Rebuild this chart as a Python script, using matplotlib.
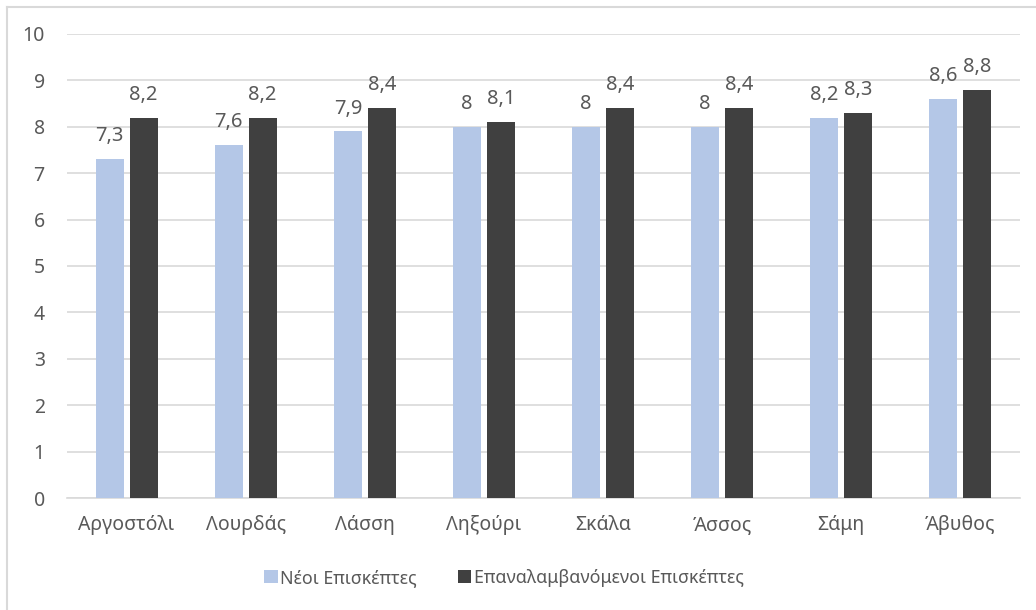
import matplotlib
matplotlib.use("Agg")
import matplotlib.pyplot as plt
from matplotlib.lines import Line2D
import numpy as np

plt.rcParams['font.family'] = ['Noto Sans', 'DejaVu Sans']

places = ["Αργοστόλι", "Λουρδάς", "Λάσση", "Ληξούρι", "Σκάλα", "Άσσος", "Σάμη", "Άβυθος"]
new_visitors = [7.3, 7.6, 7.9, 8.0, 8.0, 8.0, 8.2, 8.6]
repeat_visitors = [8.2, 8.2, 8.4, 8.1, 8.4, 8.4, 8.3, 8.8]
series_names = ["Νέοι Επισκέπτες", "Επαναλαμβανόμενοι Επισκέπτες"]

LIGHT = "#B4C7E7"
DARK = "#404040"
TEXT = "#595959"
GRID = "#D9D9D9"

W, H = 1036, 610
fig = plt.figure(figsize=(W / 100, H / 100), dpi=100)
ax = fig.add_axes([67 / W, 1 - 498 / H, (1020 - 67) / W, (498 - 34) / H])

x = np.arange(len(places))
bw = 0.235
gap = 0.05
off = (bw + gap) / 2

b1 = ax.bar(x - off, new_visitors, bw, color=LIGHT, label=series_names[0], zorder=3)
b2 = ax.bar(x + off, repeat_visitors, bw, color=DARK, label=series_names[1], zorder=3)


def fmt(v):
    s = f"{v:.1f}".replace(".", ",")
    return s[:-2] if s.endswith(",0") else s


for bars, vals in ((b1, new_visitors), (b2, repeat_visitors)):
    for rect, v in zip(bars, vals):
        ax.annotate(fmt(v), (rect.get_x() + rect.get_width() / 2, v),
                    xytext=(0, 16.5), textcoords="offset points",
                    ha="center", va="center", fontsize=14.5, color=TEXT)

ax.set_xlim(-0.5, len(places) - 0.5)
ax.set_ylim(0, 10)
ax.set_yticks(range(0, 11))
ax.set_xticks(x)
ax.set_xticklabels(places)
ax.tick_params(axis="y", length=0, pad=16, labelsize=14, labelcolor=TEXT)
ax.tick_params(axis="x", length=0, pad=12, labelsize=14, labelcolor=TEXT)
ax.grid(axis="y", color=GRID, linewidth=1.2, zorder=0)
for s in ("top", "right", "left"):
    ax.spines[s].set_visible(False)
ax.spines["bottom"].set_color(GRID)
ax.spines["bottom"].set_linewidth(1.2)

fig.legend(loc="center", bbox_to_anchor=(504 / W, 1 - 578 / H), ncol=2, frameon=False,
           fontsize=12.8, labelcolor=TEXT, handlelength=0.75, handleheight=0.75,
           handletextpad=0.15, columnspacing=2.3)

# chart frame (top and left edges)
fig.add_artist(Line2D([7 / W, 7 / W], [0, 1 - 7 / H], transform=fig.transFigure,
                      color=GRID, linewidth=1.5))
fig.add_artist(Line2D([7 / W, 1], [1 - 7 / H, 1 - 7 / H], transform=fig.transFigure,
                      color=GRID, linewidth=1.5))

fig.savefig("out.png", dpi=100)
